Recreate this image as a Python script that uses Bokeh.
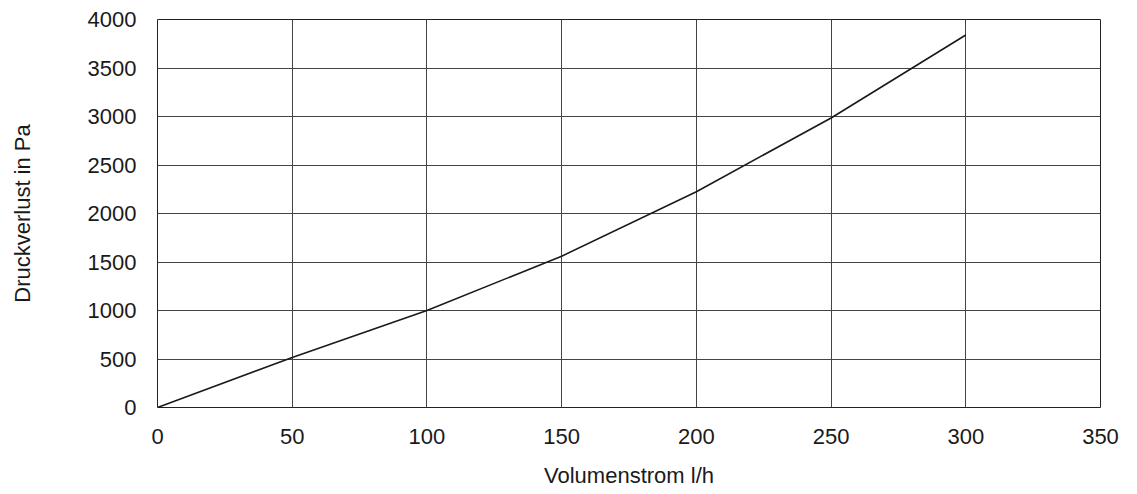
from bokeh.plotting import figure
from bokeh.models import Range1d, FixedTicker
from bokeh.embed import file_html
from bokeh.resources import INLINE

flow = [0, 50, 100, 150, 200, 250, 300]
pressure = [0, 515, 1000, 1560, 2225, 2985, 3840]
x_ticks = [0, 50, 100, 150, 200, 250, 300, 350]
y_ticks = [0, 500, 1000, 1500, 2000, 2500, 3000, 3500, 4000]

FONT = "Liberation Sans"

p = figure(frame_width=943, frame_height=388, output_backend="svg", toolbar_location=None,
           x_range=Range1d(0, 350), y_range=Range1d(0, 4000),
           min_border_left=157, min_border_right=21, min_border_top=19, min_border_bottom=70)

p.line(flow, pressure, line_color="#1a1a1a", line_width=1.6)

p.outline_line_color = "#222222"
p.outline_line_width = 1

for ax in (p.xaxis, p.yaxis):
    ax.axis_line_color = None
    ax.major_tick_line_color = None
    ax.minor_tick_line_color = None
    ax.major_label_text_font = FONT
    ax.major_label_text_font_size = "22px"
    ax.major_label_text_color = "#1a1a1a"
    ax.axis_label_text_font = FONT
    ax.axis_label_text_font_size = "22px"
    ax.axis_label_text_font_style = "normal"
    ax.axis_label_text_color = "#1a1a1a"

p.xaxis.ticker = FixedTicker(ticks=x_ticks)
p.yaxis.ticker = FixedTicker(ticks=y_ticks)
p.xaxis.major_label_standoff = 15
p.yaxis.major_label_standoff = 15
p.xaxis.axis_label = "Volumenstrom l/h"
p.yaxis.axis_label = "Druckverlust in Pa"
p.xaxis.axis_label_standoff = 16
p.yaxis.axis_label_standoff = 50

p.xgrid.ticker = FixedTicker(ticks=x_ticks)
p.ygrid.ticker = FixedTicker(ticks=y_ticks)
for g in (p.xgrid, p.ygrid):
    g.grid_line_color = "#444444"
    g.grid_line_width = 1
    g.grid_line_alpha = 1.0

open("out.html", "w").write(file_html(p, INLINE))
